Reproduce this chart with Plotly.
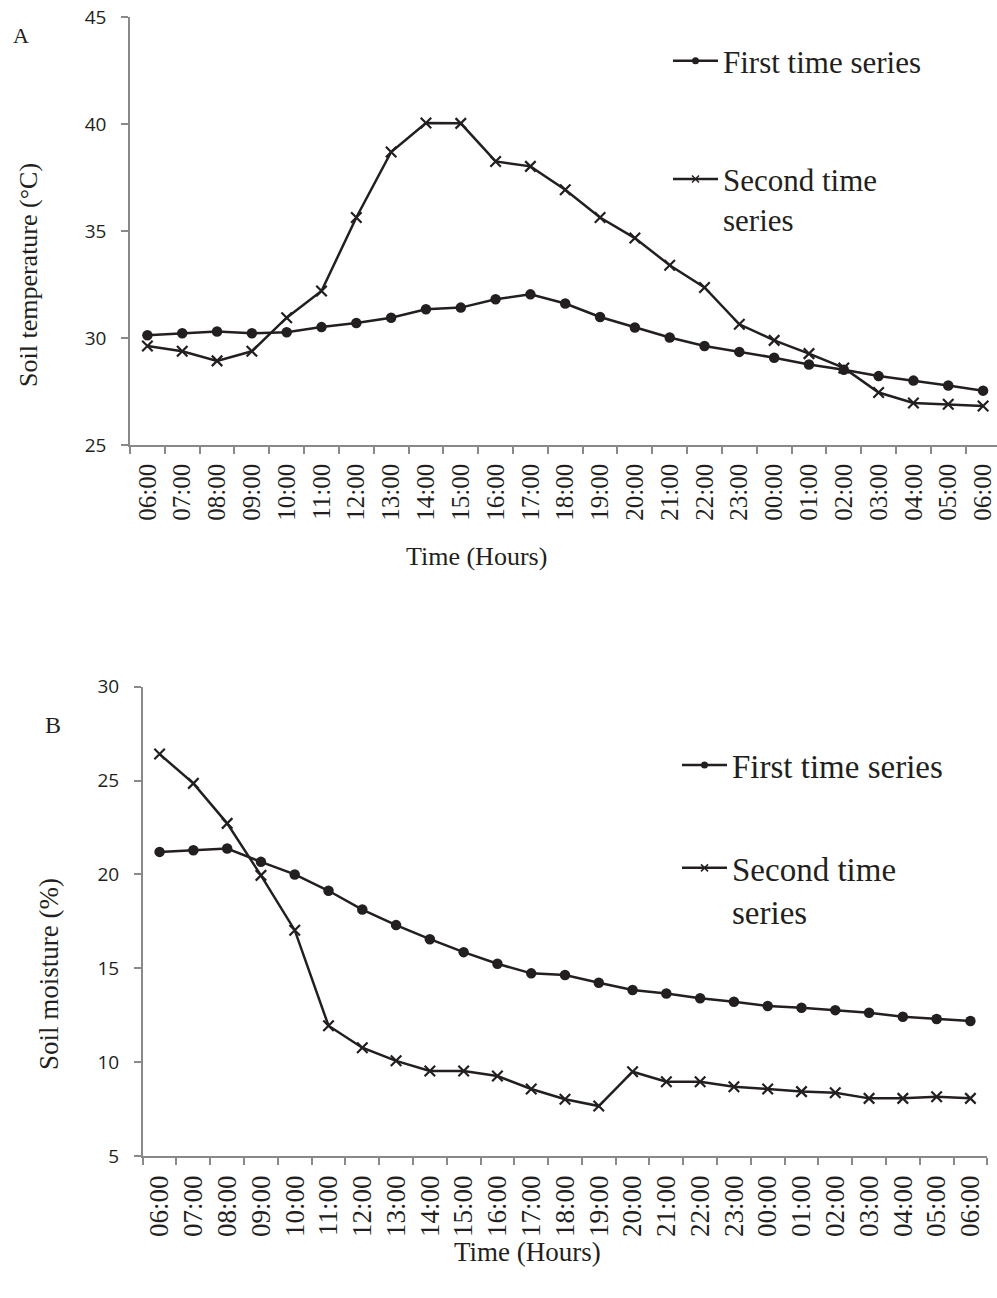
import plotly.graph_objects as go

hours = ["06:00", "07:00", "08:00", "09:00", "10:00", "11:00", "12:00", "13:00",
         "14:00", "15:00", "16:00", "17:00", "18:00", "19:00", "20:00", "21:00",
         "22:00", "23:00", "00:00", "01:00", "02:00", "03:00", "04:00", "05:00", "06:00"]

temp_first = [30.13, 30.22, 30.30, 30.22, 30.27, 30.51, 30.70, 30.95, 31.34, 31.42,
              31.81, 32.04, 31.61, 30.98, 30.49, 30.02, 29.63, 29.35, 29.08, 28.76,
              28.52, 28.22, 28.01, 27.78, 27.54]
temp_second = [29.63, 29.38, 28.93, 29.38, 30.95, 32.20, 35.63, 38.69, 40.05, 40.03,
               38.25, 38.02, 36.93, 35.63, 34.67, 33.40, 32.36, 30.64, 29.89, 29.27,
               28.60, 27.45, 26.96, 26.90, 26.82]
moist_first = [21.20, 21.29, 21.38, 20.67, 20.00, 19.13, 18.13, 17.30, 16.55, 15.86,
               15.24, 14.73, 14.64, 14.23, 13.84, 13.66, 13.40, 13.22, 12.99, 12.90,
               12.77, 12.63, 12.42, 12.30, 12.19]
moist_second = [26.41, 24.85, 22.72, 19.95, 17.03, 11.94, 10.77, 10.07, 9.53, 9.53,
                9.26, 8.57, 8.02, 7.66, 9.49, 8.96, 8.96, 8.69, 8.57, 8.43,
                8.37, 8.07, 8.07, 8.16, 8.07]

series_names = ["First time series", "Second time<br>series"]

W, H = 997, 1298
GRAY = "#898989"
INK = "#231f20"
SERIF = "Liberation Serif, Times New Roman, serif"
SANS = "Open Sans, Liberation Sans, sans-serif"


def px(v):
    return v / W


def py(v):
    return 1 - v / H


x_idx = list(range(len(hours)))

fig = go.Figure()


def add_pair(first, second, xa, ya, legend):
    fig.add_trace(go.Scatter(x=x_idx, y=first, xaxis=xa, yaxis=ya, mode="lines+markers",
                             line=dict(color=INK, width=2.5),
                             marker=dict(symbol="circle", size=10.5, color=INK),
                             showlegend=False))
    fig.add_trace(go.Scatter(x=x_idx, y=second, xaxis=xa, yaxis=ya, mode="lines+markers",
                             line=dict(color=INK, width=2.5),
                             marker=dict(symbol="x-thin", size=10.5,
                                         line=dict(color=INK, width=2.2)),
                             showlegend=False))
    # legend-only entries (no data)
    fig.add_trace(go.Scatter(x=[None], y=[None], xaxis=xa, yaxis=ya, mode="lines+markers",
                             name=series_names[0], legend=legend, legendgroup=legend + "a",
                             line=dict(color=INK, width=2.5),
                             marker=dict(symbol="circle", size=7, color=INK)))
    fig.add_trace(go.Scatter(x=[None], y=[None], xaxis=xa, yaxis=ya, mode="lines+markers",
                             name=series_names[1], legend=legend, legendgroup=legend + "b",
                             line=dict(color=INK, width=2.5),
                             marker=dict(symbol="x-thin", size=7,
                                         line=dict(color=INK, width=1.5))))


add_pair(temp_first, temp_second, "x", "y", "legend")
add_pair(moist_first, moist_second, "x2", "y2", "legend2")


def xaxis_cfg(domain, rng, fsize, anchor):
    return dict(domain=domain, range=rng, anchor=anchor, automargin=False,
                tickmode="array", tickvals=x_idx, ticktext=hours, ticklabeloverflow="allow",
                tickangle=-90, ticks="outside", ticklen=7, tickcolor="rgba(0,0,0,0)",
                minor=dict(tickmode="array", tickvals=[i - 0.5 for i in range(len(hours) + 1)],
                           ticks="outside", ticklen=7, tickcolor=GRAY, tickwidth=1.5),
                showline=True, linecolor=GRAY, linewidth=1.5, showgrid=False, zeroline=False,
                tickfont=dict(family=SERIF, size=fsize, color=INK), fixedrange=True)


def yaxis_cfg(domain, rng, fsize, anchor):
    return dict(domain=domain, range=rng, anchor=anchor, automargin=False,
                dtick=5, tick0=0, ticks="outside", ticklen=7, ticklabelstandoff=11,
                ticklabeloverflow="allow",
                tickcolor=GRAY, tickwidth=1.5, showline=True, linecolor=GRAY, linewidth=1.5,
                showgrid=False, zeroline=False,
                tickfont=dict(family=SANS, size=fsize, color=INK), fixedrange=True)


fig.update_layout(
    template="none",
    width=W, height=H,
    margin=dict(l=0, r=0, t=0, b=0, pad=0),
    paper_bgcolor="white", plot_bgcolor="white",
    xaxis=xaxis_cfg([px(130), 1.0], [-0.5, 24.4], 25, "y"),
    yaxis=yaxis_cfg([py(445), py(17)], [25, 45], 19, "x"),
    xaxis2=xaxis_cfg([px(142.7), px(987.3)], [-0.5, 24.5], 27, "y2"),
    yaxis2=yaxis_cfg([py(1156), py(686.7)], [5, 30], 19, "x2"),
    legend=dict(x=px(668), y=py(34), xanchor="left", yanchor="top",
                font=dict(family=SERIF, size=31, color=INK), bgcolor="rgba(0,0,0,0)",
                tracegroupgap=75, itemwidth=45, valign="top", itemsizing="trace"),
    legend2=dict(x=px(677), y=py(737), xanchor="left", yanchor="top",
                 font=dict(family=SERIF, size=33, color=INK), bgcolor="rgba(0,0,0,0)",
                 tracegroupgap=57, itemwidth=45, valign="top", itemsizing="trace"),
)

annos = [
    dict(text="A", x=21, y=36, size=22),
    dict(text="B", x=53, y=725, size=24),
    dict(text="Time (Hours)", x=476, y=556, size=26),
    dict(text="Time (Hours)", x=527, y=1252, size=27),
]
for a in annos:
    fig.add_annotation(text=a["text"], x=px(a["x"]), y=py(a["y"]), xref="paper", yref="paper",
                       xanchor="center", yanchor="middle", showarrow=False,
                       font=dict(family=SERIF, size=a["size"], color=INK))

fig.add_annotation(text="Soil temperature (°C)", x=px(28), y=py(275), xref="paper", yref="paper",
                   xanchor="center", yanchor="middle", showarrow=False, textangle=-90,
                   font=dict(family=SERIF, size=26, color=INK))
fig.add_annotation(text="Soil moisture (%)", x=px(49), y=py(974), xref="paper", yref="paper",
                   xanchor="center", yanchor="middle", showarrow=False, textangle=-90,
                   font=dict(family=SERIF, size=27, color=INK))

# remove the browser's default 8px body margin so the figure fills the window
fig.write_html("out.html", config={"displayModeBar": False},
               post_script="document.body.style.margin='0';document.body.style.overflow='hidden';")
